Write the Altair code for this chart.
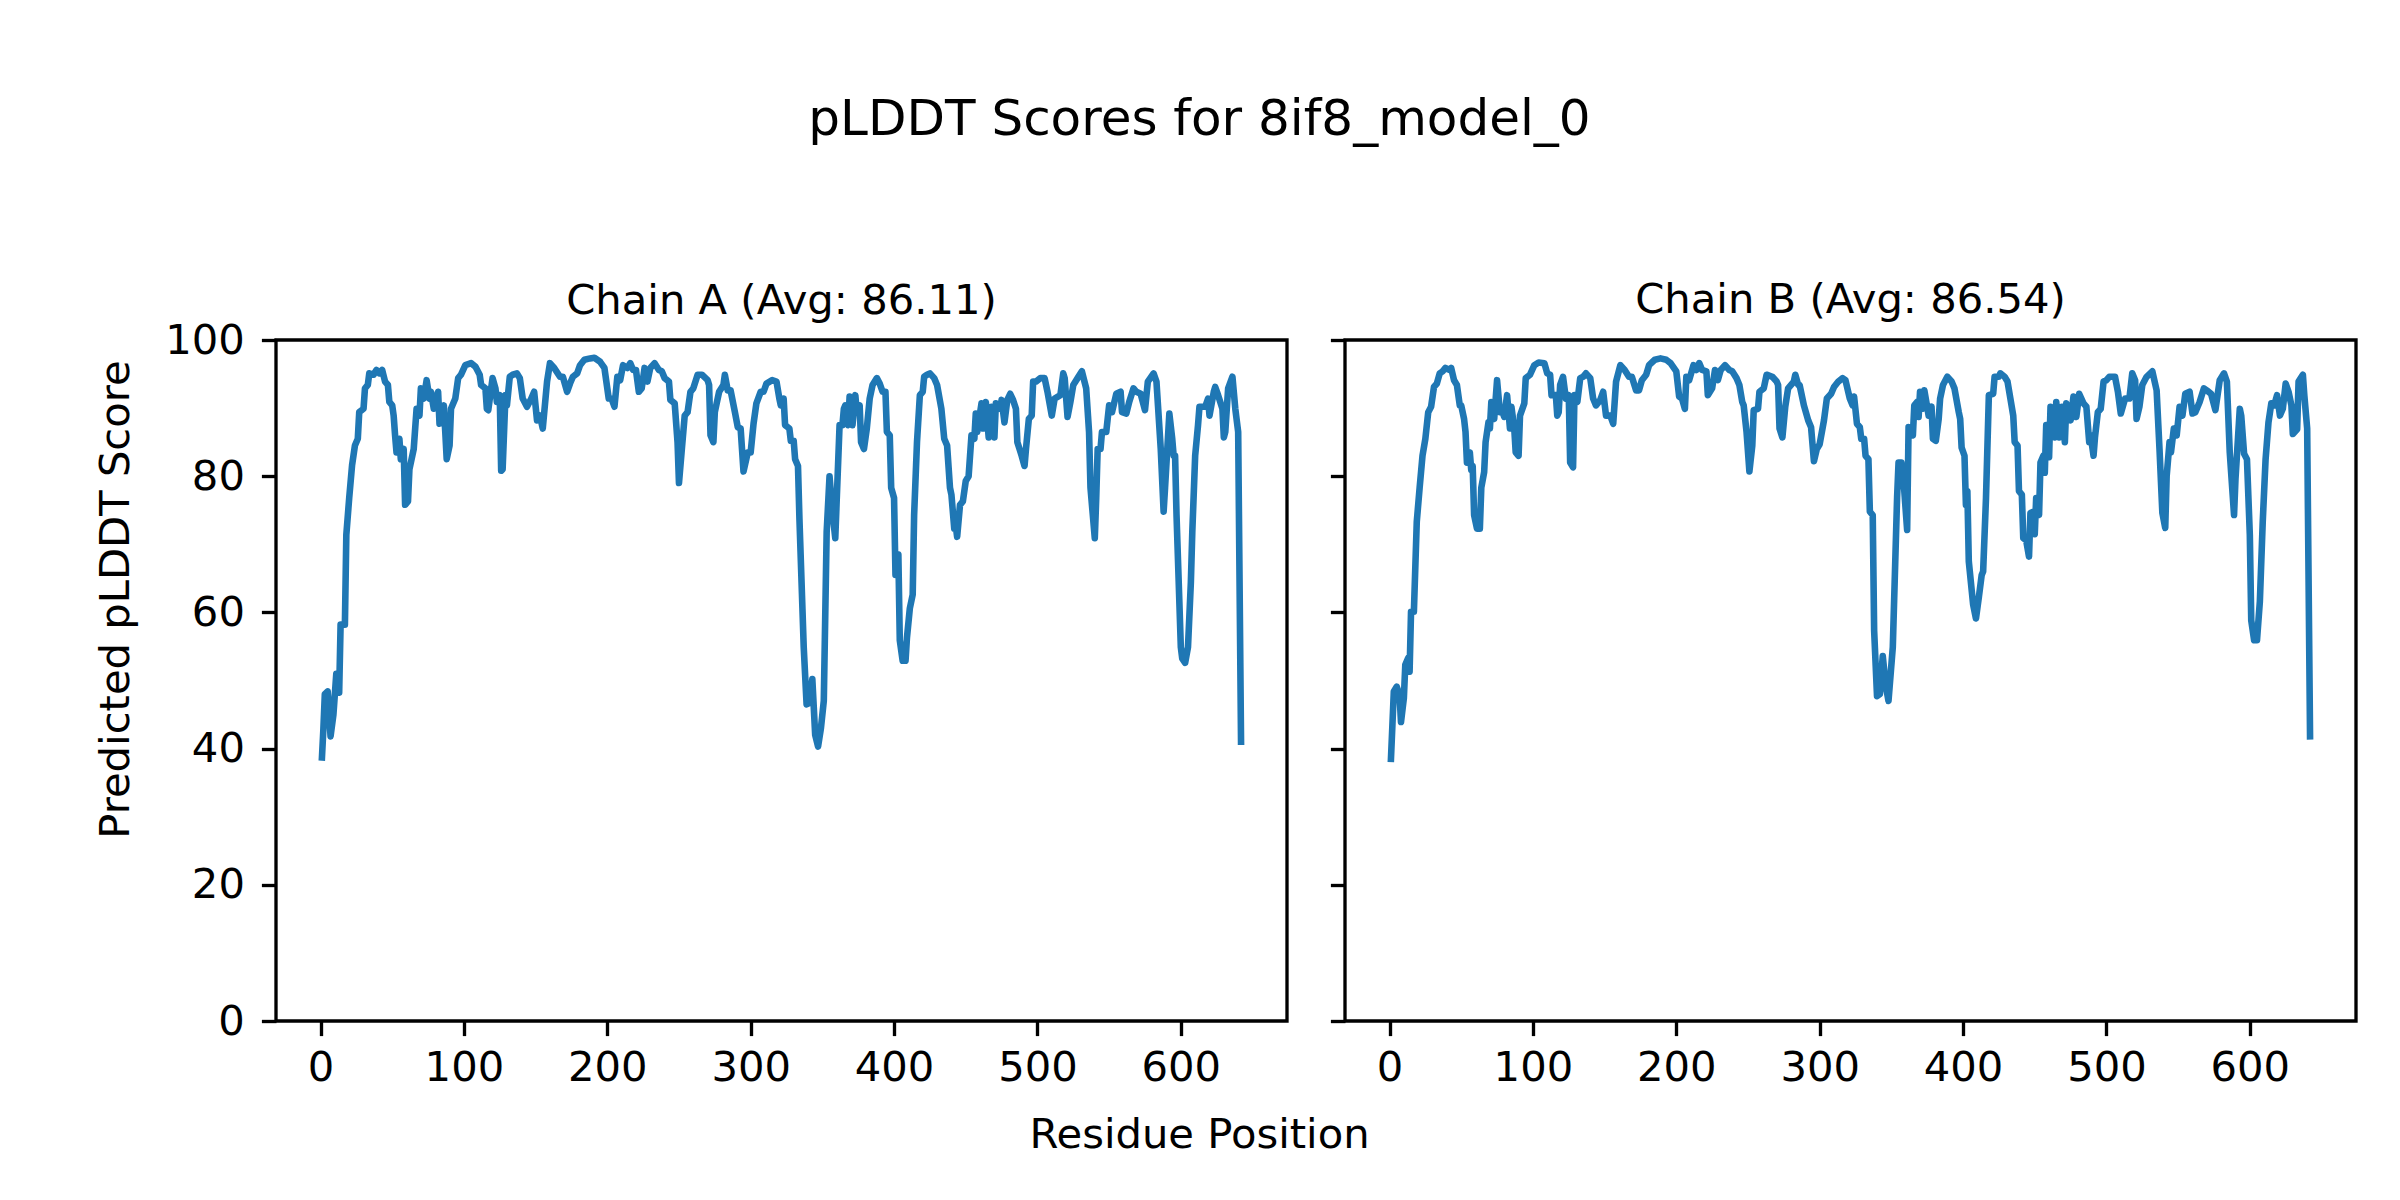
import altair as alt
import pandas as pd

SUPTITLE = "pLDDT Scores for 8if8_model_0"
X_LABEL = "Residue Position"
Y_LABEL = "Predicted pLDDT Score"
TITLE_A = "Chain A (Avg: 86.11)"
TITLE_B = "Chain B (Avg: 86.54)"
X_TICKS = [0, 100, 200, 300, 400, 500, 600]
Y_TICKS = [0, 20, 40, 60, 80, 100]

res_a = [1, 2, 3, 5, 7, 9, 11, 13, 14, 17, 18, 20, 22, 24, 26, 27, 30, 31, 33, 34, 37, 39, 41, 43, 45, 47, 48,
         50, 51, 52, 53, 55, 56, 58, 59, 61, 62, 65, 67, 69, 70, 72, 74, 76, 77, 79, 82, 83, 86, 87, 88, 90, 91,
         94, 96, 98, 101, 105, 108, 111, 112, 115, 116, 117, 119, 120, 122, 123, 125, 126, 127, 129, 130, 132,
         134, 137, 139, 141, 144, 147, 149, 151, 153, 155, 158, 160, 163, 167, 169, 172, 174, 176, 179, 181, 184,
         188, 191, 195, 198, 201, 203, 205, 207, 209, 211, 214, 216, 218, 220, 222, 224, 226, 228, 230, 233, 236,
         238, 240, 243, 244, 247, 249, 250, 252, 254, 256, 258, 260, 263, 266, 270, 271, 272, 274, 275, 278, 281,
         282, 284, 286, 289, 291, 293, 295, 298, 300, 302, 304, 307, 309, 311, 315, 318, 320, 321, 323, 324, 327,
         328, 330, 331, 333, 334, 337, 339, 341, 343, 345, 347, 349, 351, 353, 355, 357, 359, 362, 364, 365, 366,
         368, 369, 371, 373, 374, 376, 377, 379, 381, 383, 385, 388, 390, 392, 394, 395, 397, 398, 400, 401, 403,
         404, 406, 408, 409, 411, 413, 414, 416, 418, 420, 421, 423, 425, 428, 430, 433, 435, 437, 439, 440, 442,
         443, 444, 446, 448, 450, 452, 454, 456, 457, 458, 461, 462, 464, 466, 468, 470, 471, 474, 475, 477, 479,
         481, 483, 485, 486, 489, 491, 492, 494, 496, 497, 499, 502, 505, 507, 510, 512, 516, 518, 519, 521, 523,
         525, 528, 531, 534, 536, 537, 540, 541, 542, 544, 545, 548, 550, 552, 555, 558, 559, 562, 564, 567, 569,
         572, 575, 577, 581, 583, 586, 588, 589, 592, 594, 595, 596, 597, 600, 601, 603, 605, 607, 608, 610, 612,
         613, 617, 619, 620, 623, 624, 626, 629, 630, 631, 633, 636, 638, 640, 642]
val_a = [38.7, 42.9, 48.0, 48.4, 41.8, 45.0, 51.0, 48.2, 58.2, 58.2, 71.4, 76.8, 81.6, 84.5, 85.5, 89.4, 89.9,
         92.9, 93.4, 95.1, 94.9, 95.6, 95.1, 95.6, 93.9, 93.4, 90.9, 90.4, 88.9, 86.0, 83.5, 85.5, 82.5, 84.0,
         75.8, 76.3, 81.0, 84.0, 89.9, 88.9, 92.9, 91.4, 94.1, 91.4, 92.4, 89.9, 92.4, 87.7, 90.4, 86.5, 82.5,
         84.5, 89.9, 91.4, 94.4, 94.9, 96.3, 96.6, 96.1, 94.9, 93.4, 92.9, 89.9, 89.7, 92.9, 94.4, 92.9, 90.9,
         91.9, 80.8, 81.0, 91.9, 90.4, 94.6, 94.9, 95.1, 94.4, 91.4, 90.2, 91.4, 92.4, 88.2, 88.9, 87.0, 93.9,
         96.6, 95.9, 94.6, 94.6, 92.4, 93.6, 94.6, 95.1, 96.3, 97.1, 97.3, 97.4, 96.8, 95.9, 91.4, 91.4, 90.2,
         94.6, 94.1, 96.3, 95.9, 96.6, 95.6, 95.6, 92.4, 92.9, 95.9, 93.9, 95.9, 96.6, 95.6, 95.4, 94.4, 93.9,
         91.2, 90.7, 85.0, 79.0, 84.0, 88.9, 89.4, 92.4, 92.9, 94.9, 94.9, 94.1, 93.4, 86.0, 85.0, 89.4, 92.4,
         93.4, 94.9, 92.6, 92.6, 89.4, 87.2, 87.0, 80.7, 83.5, 83.5, 87.7, 90.7, 92.4, 92.4, 93.6, 94.1, 93.9,
         91.4, 90.4, 91.4, 87.5, 87.0, 85.2, 85.2, 82.5, 81.5, 73.8, 54.9, 46.5, 46.7, 50.2, 42.0, 40.3, 43.0,
         47.0, 71.8, 80.0, 74.8, 70.9, 87.5, 87.5, 89.9, 90.4, 87.5, 91.7, 87.5, 91.9, 89.4, 90.4, 85.0, 84.0,
         87.0, 91.4, 93.4, 94.4, 93.6, 92.4, 92.4, 86.5, 86.0, 78.3, 76.8, 65.5, 68.5, 55.9, 52.9, 52.9, 56.3,
         60.6, 62.6, 74.3, 85.0, 91.9, 92.4, 94.6, 94.9, 95.1, 94.4, 93.4, 89.9, 85.5, 84.5, 78.3, 77.3, 72.3,
         72.8, 71.1, 75.8, 76.3, 79.3, 80.0, 86.0, 85.5, 89.2, 86.5, 90.7, 87.0, 90.9, 85.7, 90.2, 85.7, 90.7,
         89.9, 91.2, 87.9, 91.2, 92.1, 91.2, 89.9, 85.0, 83.0, 81.5, 84.0, 88.4, 88.9, 93.9, 93.9, 94.4, 94.4,
         92.4, 88.9, 91.4, 91.9, 95.1, 94.4, 88.7, 90.9, 93.4, 94.4, 95.4, 92.9, 86.5, 78.3, 70.9, 76.8, 84.0,
         84.0, 86.5, 86.5, 90.4, 89.4, 92.1, 92.4, 89.4, 89.2, 90.9, 92.9, 92.4, 92.1, 89.7, 93.9, 95.1, 93.9,
         84.0, 74.8, 78.3, 89.2, 85.5, 83.0, 83.0, 74.3, 54.9, 53.2, 52.6, 54.9, 64.4, 71.8, 83.0, 87.5, 90.2,
         90.2, 91.4, 88.9, 92.4, 93.1, 91.9, 89.9, 85.7, 86.5, 92.9, 94.6, 89.9, 86.5, 41.0]

res_b = [1, 2, 3, 5, 7, 8, 10, 11, 13, 14, 15, 17, 19, 21, 23, 25, 27, 29, 31, 33, 35, 37, 39, 42, 43, 45, 47,
         49, 50, 52, 53, 54, 56, 57, 58, 59, 61, 63, 64, 66, 67, 69, 70, 71, 73, 75, 77, 78, 80, 82, 84, 85, 87,
         88, 90, 91, 94, 95, 98, 101, 104, 108, 110, 112, 113, 116, 117, 118, 119, 121, 123, 125, 126, 128, 129,
         131, 133, 135, 137, 140, 142, 144, 147, 149, 151, 154, 156, 158, 161, 164, 167, 169, 172, 174, 176, 179,
         181, 185, 189, 193, 196, 200, 202, 204, 206, 207, 209, 212, 214, 216, 218, 221, 222, 225, 227, 229, 231,
         234, 237, 239, 242, 244, 246, 247, 249, 251, 253, 254, 257, 258, 261, 263, 267, 270, 271, 272, 274, 276,
         278, 282, 283, 285, 286, 289, 292, 294, 296, 298, 300, 303, 305, 308, 310, 313, 316, 318, 321, 323, 324,
         326, 328, 329, 331, 332, 334, 335, 337, 338, 340, 342, 344, 346, 348, 351, 354, 355, 357, 359, 361, 362,
         365, 366, 368, 369, 370, 372, 373, 376, 378, 379, 381, 383, 384, 386, 389, 392, 394, 397, 398, 399, 401,
         402, 403, 404, 407, 409, 411, 413, 414, 416, 418, 421, 422, 425, 426, 429, 431, 433, 435, 436, 438, 439,
         441, 442, 444, 446, 447, 449, 450, 451, 453, 454, 456, 457, 458, 460, 461, 464, 465, 467, 469, 471, 472,
         475, 477, 479, 481, 484, 486, 488, 489, 491, 492, 494, 496, 498, 500, 502, 506, 508, 510, 513, 516, 518,
         520, 521, 523, 525, 528, 532, 535, 537, 539, 541, 542, 544, 545, 547, 549, 551, 553, 555, 558, 560, 562,
         565, 568, 570, 573, 576, 579, 582, 584, 586, 589, 590, 593, 594, 596, 598, 600, 601, 603, 605, 607, 609,
         611, 613, 615, 617, 619, 621, 623, 625, 627, 629, 630, 633, 634, 637, 638, 640, 642]
val_b = [38.5, 43.4, 48.4, 49.1, 47.9, 43.9, 47.4, 52.3, 53.3, 51.3, 60.1, 60.1, 73.3, 78.3, 83.0, 85.5, 89.4,
         90.2, 93.1, 93.6, 95.1, 95.4, 95.9, 95.6, 95.9, 94.1, 93.4, 90.4, 90.4, 88.4, 86.5, 82.0, 83.5, 80.9,
         81.5, 74.3, 72.3, 72.3, 78.3, 80.6, 85.0, 87.9, 87.0, 90.9, 88.4, 94.1, 89.4, 89.9, 88.7, 91.9, 87.0,
         90.2, 87.0, 83.5, 83.0, 88.9, 90.7, 94.4, 94.9, 96.3, 96.7, 96.6, 95.1, 94.9, 91.9, 91.9, 88.9, 89.4,
         93.4, 94.6, 91.4, 91.9, 82.0, 81.3, 91.9, 90.9, 94.4, 94.6, 95.1, 94.4, 91.4, 90.4, 91.2, 92.4, 88.9,
         88.9, 87.7, 93.9, 96.3, 95.6, 94.6, 94.6, 92.6, 92.6, 94.1, 94.9, 96.3, 97.1, 97.3, 97.1, 96.6, 95.4,
         91.7, 91.4, 89.9, 94.6, 94.1, 96.3, 95.6, 96.6, 95.6, 95.4, 91.9, 92.9, 95.6, 94.1, 95.6, 96.3, 95.6,
         95.4, 94.4, 93.4, 90.9, 90.4, 86.5, 80.7, 84.5, 89.7, 89.9, 92.4, 92.9, 94.9, 94.6, 93.9, 93.4, 87.0,
         85.7, 90.2, 92.9, 93.9, 94.9, 93.4, 93.4, 90.4, 88.2, 87.2, 82.2, 84.0, 84.7, 88.2, 91.4, 92.1, 93.1,
         93.9, 94.4, 94.1, 91.4, 90.4, 91.7, 87.7, 87.2, 85.5, 85.5, 83.0, 82.5, 74.8, 74.3, 57.3, 47.7, 48.0,
         53.6, 49.4, 47.0, 54.9, 76.9, 82.0, 82.0, 77.9, 72.1, 87.2, 86.0, 90.4, 90.9, 88.7, 92.4, 89.9, 92.6,
         88.9, 90.2, 85.5, 85.2, 88.4, 91.4, 93.4, 94.6, 93.9, 92.9, 89.4, 88.4, 84.2, 83.0, 75.8, 77.8, 67.5,
         61.2, 59.1, 62.2, 65.5, 66.0, 76.8, 91.9, 92.1, 94.6, 94.6, 95.1, 94.6, 93.9, 91.4, 88.9, 85.0, 84.5,
         77.8, 77.3, 70.9, 70.6, 68.2, 74.6, 74.8, 71.5, 76.8, 74.3, 82.0, 83.0, 80.5, 87.5, 82.8, 90.2, 85.7,
         90.9, 85.7, 90.2, 85.0, 90.7, 88.2, 91.7, 88.7, 92.1, 90.7, 90.2, 85.0, 86.0, 83.0, 85.7, 89.4, 89.9,
         93.9, 94.1, 94.6, 94.6, 92.4, 89.2, 91.4, 91.4, 95.1, 94.1, 88.4, 90.2, 93.4, 94.6, 95.4, 92.6, 84.0,
         74.6, 72.4, 80.0, 85.0, 83.5, 87.0, 86.0, 90.2, 88.9, 92.1, 92.4, 89.2, 89.4, 90.9, 92.9, 92.6, 92.1,
         89.7, 94.1, 95.1, 93.9, 83.5, 74.3, 79.6, 89.9, 88.9, 83.3, 82.5, 71.4, 58.8, 55.9, 55.9, 61.6, 73.3,
         82.5, 87.9, 90.7, 90.4, 91.9, 88.9, 89.9, 93.6, 92.4, 90.4, 86.2, 86.9, 93.9, 94.9, 91.9, 87.0, 41.8]

FONT = "DejaVu Sans"
FS = 41.7
BLUE = "#1f77b4"
X_DOMAIN = [-31.05, 674.05]


def panel(res, val, title, first):
    df = pd.DataFrame({"Residue": res, "pLDDT": val})
    if first:
        y_axis = alt.Axis(values=Y_TICKS, title=Y_LABEL, titleX=-161, titleY=259, titleAngle=-90,
                          titleBaseline="middle", titleAlign="center", labelPadding=17)
        x_axis = alt.Axis(values=X_TICKS, title=None, labelPadding=12)
        title_offset = -36
    else:
        y_axis = alt.Axis(values=Y_TICKS, labels=False, title=None)
        x_axis = alt.Axis(values=X_TICKS, title=X_LABEL, titleX=-146, titleY=113,
                          titleBaseline="middle", titleAlign="center", labelPadding=12)
        title_offset = -16
    return alt.Chart(df).mark_line(color=BLUE, strokeWidth=6.6, strokeJoin="round",
                                   strokeCap="square", clip=True).encode(
        x=alt.X("Residue:Q", scale=alt.Scale(domain=X_DOMAIN, nice=False, zero=False), axis=x_axis),
        y=alt.Y("pLDDT:Q", scale=alt.Scale(domain=[0, 100], nice=False), axis=y_axis),
    ).properties(
        width=1011, height=681,
        title=alt.TitleParams(title, fontSize=FS, font=FONT, fontWeight="normal", color="black",
                              anchor="middle", baseline="alphabetic", offset=title_offset),
    )


chart = alt.hconcat(
    panel(res_a, val_a, TITLE_A, True),
    panel(res_b, val_b, TITLE_B, False),
    spacing=58, bounds="flush",
).properties(
    title=alt.TitleParams(SUPTITLE, fontSize=50, font=FONT, fontWeight="normal", color="black",
                          anchor="middle", baseline="alphabetic", offset=93, dx=-26),
    padding={"left": 85, "top": 86, "right": 20, "bottom": 60},
    background="white",
).configure_view(
    stroke="black", strokeWidth=3.33,
).configure_axis(
    domain=False, grid=False, ticks=True, tickSize=14.6, tickWidth=3.33, tickColor="black",
    labelFont=FONT, labelFontSize=FS, labelColor="black",
    titleFont=FONT, titleFontSize=FS, titleFontWeight="normal", titleColor="black",
)

chart.save("out.html", embed_options={"renderer": "svg", "actions": False})
